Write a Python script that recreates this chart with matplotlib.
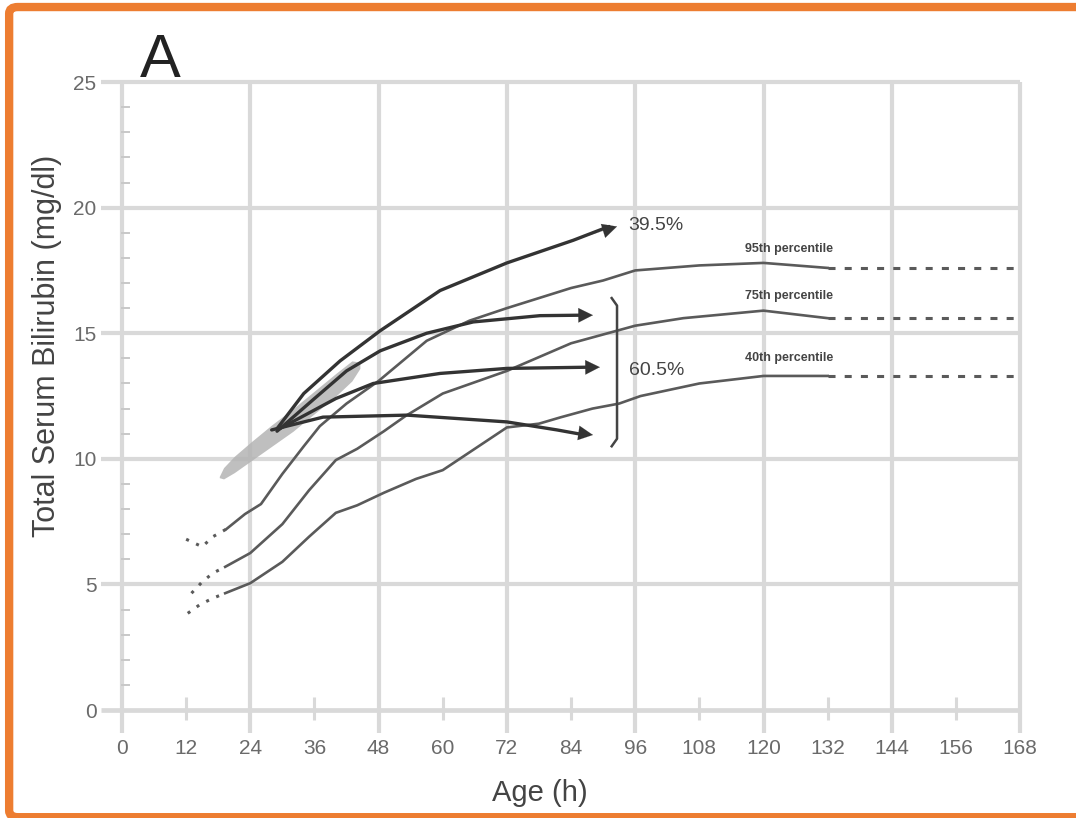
import numpy as np
import matplotlib
matplotlib.use("Agg")
import matplotlib.pyplot as plt
from matplotlib.patches import FancyBboxPatch

plt.rcParams['font.family'] = ['Liberation Sans', 'DejaVu Sans']

# percentile curves: dotted start, solid part, dotted extension level
p95_dot_x = [12, 15, 17, 19.5]
p95_dot_y = [6.8, 6.5, 6.9, 7.2]
p95_x = [19.5, 23, 26, 30, 34, 37, 42, 48, 57, 65, 72, 84, 90, 96, 108, 120, 132]
p95_y = [7.2, 7.8, 8.2, 9.4, 10.5, 11.3, 12.2, 13.1, 14.7, 15.5, 16.0, 16.8, 17.1, 17.5, 17.7, 17.8, 17.6]

p75_dot_x = [13, 15, 17, 19.3]
p75_dot_y = [4.65, 5.1, 5.45, 5.7]
p75_x = [19.3, 24, 30, 35, 40, 44, 49, 53, 60, 68, 72, 84, 96, 105, 120, 132]
p75_y = [5.7, 6.25, 7.4, 8.75, 9.95, 10.4, 11.1, 11.7, 12.6, 13.2, 13.5, 14.6, 15.3, 15.6, 15.9, 15.6]

p40_dot_x = [12.3, 14.6, 17, 19.3]
p40_dot_y = [3.85, 4.2, 4.45, 4.65]
p40_x = [19.3, 24, 30, 35, 40, 44, 49, 55, 60, 66, 72, 78, 82, 88, 93, 97, 108, 120, 132]
p40_y = [4.65, 5.05, 5.9, 6.9, 7.85, 8.15, 8.65, 9.2, 9.55, 10.4, 11.25, 11.4, 11.65, 12.0, 12.2, 12.5, 13.0, 13.3, 13.3]

ext_x = [132, 168]
ext_levels = [17.6, 15.6, 13.3]
pct_labels = ["95th percentile", "75th percentile", "40th percentile"]
pct_label_y = [18.35, 16.48, 14.0]

# trajectories (arrows)
a1_x = [29, 34, 40.8, 48.3, 59.5, 72, 84.4, 92.6]
a1_y = [11.2, 12.6, 13.9, 15.1, 16.7, 17.8, 18.7, 19.25]
a2_x = [29, 36, 42, 48.3, 57, 65.7, 78.2, 88.1]
a2_y = [11.1, 12.4, 13.5, 14.3, 15.0, 15.45, 15.7, 15.72]
a3_x = [29.5, 40, 47, 59.5, 72, 89.4]
a3_y = [11.2, 12.4, 13.0, 13.4, 13.6, 13.65]
a4_x = [28, 37.6, 53.3, 72, 81.4, 88.1]
a4_y = [11.15, 11.66, 11.74, 11.47, 11.15, 10.95]

# gray shaded band
band_x = [18.2, 19, 21, 24, 28, 32, 36, 40, 43, 44.5]
band_lo = [9.25, 9.2, 9.45, 9.9, 10.5, 11.1, 11.8, 12.5, 13.1, 13.6]
band_hi = [9.3, 9.65, 10.1, 10.65, 11.35, 12.0, 12.7, 13.4, 13.9, 13.85]

xticks = list(range(0, 169, 12))
yticks = [0, 5, 10, 15, 20, 25]

fig = plt.figure(figsize=(10.76, 8.18), dpi=100)
ax = fig.add_axes([0.0935, 0.1013, 0.8645, 0.8076])
ax.set_xlim(-4, 170)
ax.set_ylim(-1, 25.3)
for s in ax.spines.values():
    s.set_visible(False)

grid_c = '#d9d9d9'
for v in yticks:
    ax.plot([-4, 168], [v, v], color=grid_c, lw=3.4 if v == 0 else 3.0, zorder=1, solid_capstyle='butt')
for h in xticks:
    if h % 24 == 0:
        ax.plot([h, h], [-0.9, 25], color=grid_c, lw=3.0, zorder=1, solid_capstyle='butt')
    else:
        ax.plot([h, h], [-0.4, 0.5], color=grid_c, lw=2.2, zorder=1, solid_capstyle='butt')
for v in range(1, 25):
    if v % 5:
        ax.plot([0, 1.3], [v, v], color='#c8c8c8', lw=1.4, zorder=1)

ax.set_xticks(xticks)
ax.set_yticks(yticks)
ax.tick_params(length=0, labelsize=15, labelcolor='#6a6a6a', pad=3)

# band
ax.fill_between(band_x, band_lo, band_hi, color='#b4b4b4', alpha=0.85, lw=0, zorder=2)

line_c = '#5a5a5a'
for dx, dy, sx, sy, lev in [(p95_dot_x, p95_dot_y, p95_x, p95_y, ext_levels[0]),
                            (p75_dot_x, p75_dot_y, p75_x, p75_y, ext_levels[1]),
                            (p40_dot_x, p40_dot_y, p40_x, p40_y, ext_levels[2])]:
    ax.plot(dx, dy, color=line_c, lw=2.2, ls=(0, (1.0, 2.6)), zorder=3)
    ax.plot(sx, sy, color=line_c, lw=1.9, zorder=3)
    ax.plot(ext_x, [lev, lev], color=line_c, lw=2.2, ls=(0, (2.3, 3.0)), zorder=3)

for lab, ly in zip(pct_labels, pct_label_y):
    ax.text(124.8, ly, lab, ha='center', va='center', fontsize=9,
            fontweight='bold', color='#444444')

arrow_c = '#333333'
for xs, ys in [(a1_x, a1_y), (a2_x, a2_y), (a3_x, a3_y), (a4_x, a4_y)]:
    ax.plot(xs[:-1] + [xs[-1] - 1.5], ys[:-1] + [ys[-1]], color=arrow_c, lw=2.4, zorder=4,
            solid_capstyle='round')
    ax.annotate('', xy=(xs[-1], ys[-1]), xytext=(xs[-2], ys[-2]),
                arrowprops=dict(arrowstyle='-|>', color=arrow_c, lw=0.1,
                                mutation_scale=26, shrinkA=0, shrinkB=0), zorder=5)

# bracket
ax.plot([91.6, 92.6, 92.6, 91.6], [16.4, 16.1, 10.8, 10.5], color='#444444', lw=1.8, zorder=4)
ax.text(94.7, 19.3, '39.5%', ha='left', va='center', fontsize=14, color='#444444')
ax.text(94.8, 13.5, '60.5%', ha='left', va='center', fontsize=14, color='#444444')

ax.set_xlabel('Age (h)', fontsize=21, color='#444444')
ax.set_ylabel('Total Serum Bilirubin (mg/dl)', fontsize=22, color='#444444')
ax.xaxis.set_label_coords(0.4725, -0.0877)
ax.xaxis.label.set_va('center')
ax.yaxis.set_label_coords(-0.0576, 0.589)
ax.yaxis.label.set_va('center')

fig.text(0.149, 0.906, 'A', ha='center', va='baseline', fontsize=44, color='#222222')

frame = FancyBboxPatch((0.0085, 0.001), 1.1, 0.9914 - 0.001,
                       boxstyle='round,pad=0,rounding_size=0.008',
                       transform=fig.transFigure, fill=False,
                       edgecolor='#ED7D31', lw=6, clip_on=False)
fig.patches.append(frame)

fig.savefig('out.png', dpi=100)
